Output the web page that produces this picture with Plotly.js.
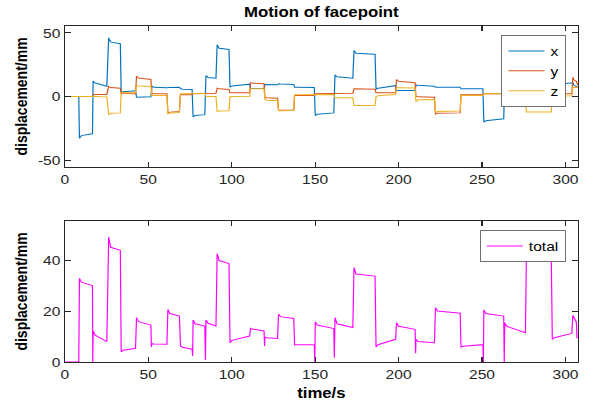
<!DOCTYPE html>
<html>
<head>
<meta charset="utf-8">
<script src="https://cdn.plot.ly/plotly-3.0.1.min.js"></script>
<style>
  html, body { margin: 0; padding: 0; background: #ffffff; overflow: hidden; width: 590px; height: 401px; }
  #chart { width: 492px; height: 401px; transform: scaleX(1.19919); transform-origin: 0 0; }
</style>
</head>
<body>
<div id="chart"></div>
<script>
// time (s) of the key points of the x / y / z components
const timeXYZ = [0,4,8.4, 8.8,10,16.6, 17.0,18.2,25.2, 26.3,27.5,33.3, 33.8,35,42.4, 43.0,44.2,51.6,
  52.2,53.4,61.2, 61.8,63,68.7, 69.3,70.5,76.3, 76.9,78.1,83.9, 84.6,85.8,90.6, 91.3,92.5,98.4,
  99.0,100.2,110.8, 111.3,112.5,119.4, 119.9,121.1,127.5, 128.1,129.3,137.2, 137.7,138.9,149.5,
  150.1,151.3,161.2, 161.9,163.1,172.6, 173.3,174.5,185.9, 186.5,187.7,198.2, 198.8,200,209.9,
  210.4,211.6,221.5, 222.1,223.3,236.9, 237.4,238.6,250.5, 251.1,252.3,263.0, 263.6,264.8,276.0,
  276.6,277.8,291.5, 292.1,293.3,303.8, 304.4,305.0,306.5, 306.9,307.1,307.4];

const xValues = [0,0,0, -32.8,-30.8,-29.4, 12.1,10.6,8.1, 46.2,42.8,41.5, 3.4,3.8,4.5, -0.5,-0.5,-0.3,
  8.1,7.2,6.8, 7.0,7.0,7.2, 6.3,5.8,5.5, -16.0,-15.0,-14.3, 16.5,15.0,14.4, 40.7,38.0,37.0,
  7.3,8.3,9.7, 6.3,6.3,6.3, 9.4,9.3,9.2, 10.0,9.8,9.4, 7.3,7.3,7.0,
  -15.0,-14.0,-12.9, 17.0,15.5,14.4, 36.2,34.0,33.3, 5.8,6.5,8.5, 4.7,4.7,4.7,
  9.0,8.8,8.0, 7.3,7.3,7.3, 6.0,6.0,6.0, -20.2,-19.0,-17.6, 16.0,14.0,11.0,
  41.5,42.0,38.5, 9.2,9.4,10.8, 10.8,9.0,7.3, 7.3,7.3,7.3];

const yValues = [0,0,0, 0,0,0, 1.6,1.6,1.6, 7.9,7.0,6.5, 2.4,2.3,2.1, 16.0,14.5,13.4,
  2.1,2.1,2.1, -12.9,-12.3,-11.8, 1.3,1.3,1.3, 2.1,2.1,2.1, 2.6,2.6,2.6, 6.6,6.0,5.5,
  2.9,2.9,2.9, 10.8,10.5,10.0, -0.5,-1.0,-1.3, -10.8,-10.8,-10.6, 0.8,0.8,0.8,
  2.1,2.1,2.1, 2.6,2.6,2.6, 6.0,6.0,5.8, 2.9,2.9,2.9, 13.4,12.0,10.8,
  0,-0.3,-0.5, -13.8,-13.2,-12.9, 1.3,1.3,1.3, 2.1,2.1,2.1, 2.1,2.1,2.1,
  6.0,5.8,5.5, 2.1,2.1,2.1, 15.2,13.0,12.0, 8.7,8.7,8.7];

const zValues = [0,0,0.3, 0,0,0, 0,0,-0.3, -14.4,-13.2,-12.9, 3.2,3.1,3.0, 8.7,8.2,7.9,
  0.8,0.8,0.8, -13.6,-13.0,-12.6, 2.1,2.1,2.1, 2.6,2.6,2.6, 0,0,0, -11.8,-11.5,-11.3,
  0,0,0.2, 6.0,6.0,6.0, -2.4,-3.0,-3.2, -11.2,-11.2,-11.0, 1.3,1.3,1.3,
  1.6,1.6,1.6, -1.0,-1.0,-1.0, -7.1,-7.1,-7.1, 0,0.5,1.5, 6.8,6.8,6.6,
  -3.9,-2.6,-2.4, -12.3,-11.8,-11.5, 0.8,0.8,0.8, 2.1,2.1,2.1, -1.3,-1.3,-1.3,
  -12.3,-12.3,-12.3, 0.3,0.3,0.5, 7.3,7.3,7.3, 7.0,7.0,7.0];

// time (s) and value of the key points of the total displacement
const timeTotal = [0,4,8.4, 8.8,10,16.6, 16.8, 17.0,18.2,25.2, 26.3,27.5,33.3, 33.8,35,42.4,
  43.0,44.2,51.6, 51.9, 52.2,53.4,61.2, 61.8,63,68.7, 69.3,70.5,76.3, 76.6, 76.9,78.1,83.9, 84.3,
  84.6,85.8,90.6, 91.3,92.5,98.4, 99.0,100.2,110.8, 111.3,112.5,119.4, 119.7, 119.9,121.1,127.5,
  128.1,129.3,137.2, 137.7,138.9,149.5, 149.8, 150.1,151.3,161.2, 161.5, 161.9,163.1,172.6,
  173.3,174.5,185.9, 186.5,187.7,198.2, 198.8,200,209.9, 210.2, 210.4,211.6,221.5,
  222.1,223.3,236.9, 237.4,238.6,250.5, 250.8, 251.1,252.3,263.0, 263.3, 263.6,264.8,276.0,
  276.6,277.8,291.5, 292.1,293.3,303.8, 304.4,305.0,306.5, 306.9,307.1,307.4];

const totalValues = [0,0,0, 32.8,31.3,30.0, 0, 12.2,10.5,8.0, 49.0,45.0,43.8, 4.0,4.6,5.4,
  17.4,15.8,14.5, 5.9, 7.2,7.1,7.0, 20.6,19.0,18.0, 6.3,5.8,5.0, 2.4, 16.5,15.0,14.1, 0.8,
  16.5,15.2,14.1, 42.5,39.8,38.6, 7.6,8.5,10.2, 13.2,12.9,12.2, 6.3, 9.8,9.5,9.2,
  18.7,17.8,17.1, 6.7,6.8,6.8, 0, 15.7,14.5,13.1, 1.7, 17.4,15.0,13.5,
  37.0,34.5,33.7, 5.9,6.8,8.9, 15.4,14.0,12.8, 3.4, 8.9,8.0,7.6,
  21.3,20.0,19.1, 5.9,6.2,6.8, 0, 20.4,19.0,18.0, 0, 15.4,14.0,11.5,
  42.9,43.8,40.3, 8.9,9.5,11.2, 18.3,17.5,15.7, 9.5,9.5,9.5];

const xTicks = [0, 50, 100, 150, 200, 250, 300];
const yTicksTop = [-50, 0, 50];
const yTicksBottom = [0, 20, 40];

const FONT = 'Liberation Sans, Arial, Helvetica, sans-serif';
const AX = '#262626';

const axisStyle = {
  showline: true, linecolor: AX, linewidth: 1, mirror: 'ticks',
  ticks: 'inside', ticklen: 5, tickwidth: 1, tickcolor: AX,
  showgrid: false, zeroline: false,
  tickfont: {family: FONT, size: 13, color: AX}
};

const traces = [
  {x: timeXYZ, y: xValues, name: 'x', type: 'scatter', mode: 'lines',
   line: {color: '#0072BD', width: 1}, xaxis: 'x', yaxis: 'y', legend: 'legend'},
  {x: timeXYZ, y: yValues, name: 'y', type: 'scatter', mode: 'lines',
   line: {color: '#D95319', width: 1}, xaxis: 'x', yaxis: 'y', legend: 'legend'},
  {x: timeXYZ, y: zValues, name: 'z', type: 'scatter', mode: 'lines',
   line: {color: '#EDB120', width: 1}, xaxis: 'x', yaxis: 'y', legend: 'legend'},
  {x: timeTotal, y: totalValues, name: 'total', type: 'scatter', mode: 'lines',
   line: {color: '#FF00FF', width: 1}, xaxis: 'x2', yaxis: 'y2', legend: 'legend2'}
];

const legendStyle = {
  bgcolor: '#ffffff', bordercolor: '#707070', borderwidth: 1,
  font: {family: FONT, size: 13, color: '#000000'},
  xanchor: 'right', yanchor: 'top', tracegroupgap: 0
};

const layout = {
  width: 492, height: 401,
  margin: {l: 54.2, r: 10, t: 26, b: 39, pad: 0},
  paper_bgcolor: '#ffffff', plot_bgcolor: '#ffffff',
  showlegend: true,
  title: {text: 'Motion of facepoint', x: 0.5, xref: 'paper', xanchor: 'center',
          y: 1 - 12/401, yanchor: 'middle',
          font: {family: FONT, size: 14, weight: 'bold', color: '#000000'}},
  xaxis: Object.assign({}, axisStyle, {domain: [0, 1], range: [0, 307.5], anchor: 'y',
          tickvals: xTicks, ticktext: xTicks.map(String)}),
  yaxis: Object.assign({}, axisStyle, {domain: [0.5804, 1], range: [-55.5, 55.5], anchor: 'x',
          tickvals: yTicksTop, ticktext: yTicksTop.map(String),
          title: {text: 'displacement/mm', standoff: 5,
                  font: {family: FONT, size: 14, weight: 'bold', color: '#000000'}}}),
  xaxis2: Object.assign({}, axisStyle, {domain: [0, 1], range: [0, 307.5], anchor: 'y2',
          tickvals: xTicks, ticktext: xTicks.map(String),
          title: {text: 'time/s', standoff: 12,
                  font: {family: FONT, size: 14, weight: 'bold', color: '#000000'}}}),
  yaxis2: Object.assign({}, axisStyle, {domain: [0, 0.4196], range: [0, 55.3], anchor: 'x2',
          tickvals: yTicksBottom, ticktext: yTicksBottom.map(String),
          title: {text: 'displacement/mm', standoff: 9,
                  font: {family: FONT, size: 14, weight: 'bold', color: '#000000'}}}),
  legend: Object.assign({}, legendStyle, {x: 0.9766, y: 0.9732}),
  legend2: Object.assign({}, legendStyle, {x: 0.9766, y: 0.3929})
};

Plotly.newPlot('chart', traces, layout, {displayModeBar: false, staticPlot: true});
</script>
</body>
</html>
